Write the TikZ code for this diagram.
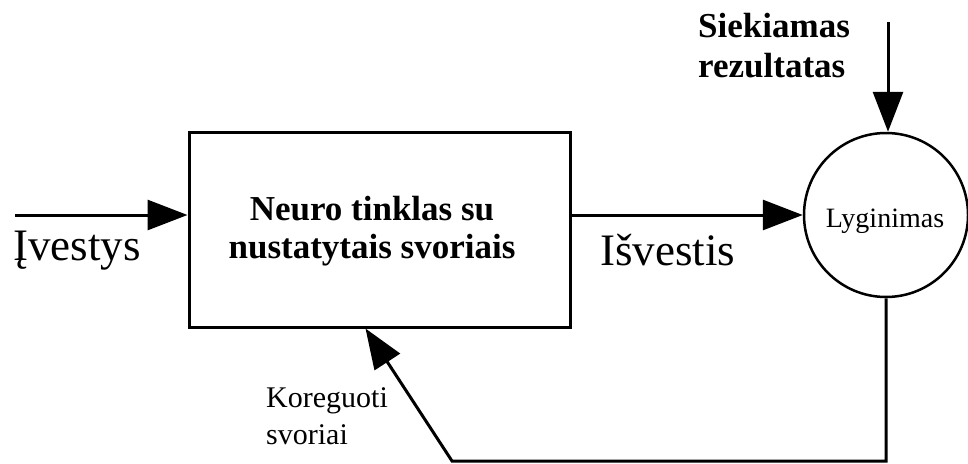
\documentclass[tikz,border=0pt]{standalone}
\usepackage{fontspec}
\setmainfont{Liberation Serif}
\usetikzlibrary{arrows.meta}
\begin{document}
\begin{tikzpicture}[x=1pt,y=-1pt,
  conn/.style={line width=3pt},
  tip/.style={-{Triangle[length=40pt,width=30pt]}},
  lbl/.style={inner sep=0pt, anchor=base west, align=left},
  bigfont/.style={font=\fontsize{45}{48}\selectfont},
  boldfont/.style={font=\fontsize{35}{38}\selectfont\bfseries},
  smallfont/.style={font=\fontsize{30}{37}\selectfont},
]
\useasboundingbox[fill=white] (0,0) rectangle (968,463);

% the network block and the comparison circle
\node[draw, line width=3pt, minimum width=381pt, minimum height=195pt, inner sep=0pt] (net) at (379.5,229.5) {};
\node[boldfont, inner sep=0pt, align=center, anchor=base] (nettext) at (372,258) {Neuro tinklas su\\nustatytais svoriais};
\node[draw, circle, line width=2.5pt, minimum size=164pt, inner sep=0pt] (cmp) at (886,215) {};
\node[font=\fontsize{28}{30}\selectfont, inner sep=0pt, anchor=base] (cmptext) at (885,227) {Lyginimas};

% connectors
\coordinate (in) at (15,215);
\coordinate (goal) at (888,22);
\coordinate (corner) at (452,461);
\draw[conn,tip] (in) -- (in -| net.west);
\draw[conn,tip] (cmp.west -| net.east) -- (cmp.west);
\draw[conn,tip] (goal) -- (goal |- cmp.north);
\draw[conn,tip] (cmp.south) -- (cmp.south |- corner) -- (corner) -- ([xshift=178pt]net.south west);

% labels
\node[lbl, bigfont] (lin) at (13,260) {Įvestys};
\node[lbl, bigfont] (lout) at (600,265) {Išvestis};
\node[lbl, font=\fontsize{35}{40}\selectfont\bfseries] (lgoal) at (698,77) {Siekiamas\\rezultatas};
\node[lbl, smallfont] (lfix) at (266,444) {Koreguoti\\svoriai};
\end{tikzpicture}
\end{document}
